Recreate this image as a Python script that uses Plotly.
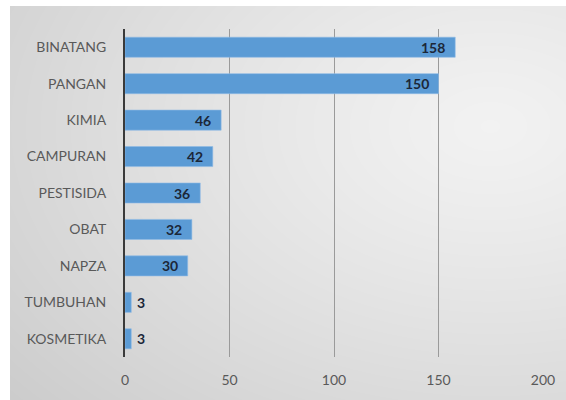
import base64
import struct
import zlib

import numpy as np
import plotly.graph_objects as go

# Jumlah kasus per kategori
categories = ["BINATANG", "PANGAN", "KIMIA", "CAMPURAN", "PESTISIDA",
              "OBAT", "NAPZA", "TUMBUHAN", "KOSMETIKA"]
values = [158, 150, 46, 42, 36, 32, 30, 3, 3]
x_ticks = [0, 50, 100, 150, 200]

W, H = 566, 400
BAR_COLOR = "#5b9bd5"
LABEL_COLOR = "#595959"
VALUE_COLOR = "#1b2738"
FONT = "Lato, Liberation Sans, Arial, sans-serif"


def gradient_png(w, h):
    """Soft grey radial fill for the chart panel, encoded as a PNG data URI."""
    yy, xx = np.mgrid[0:h, 0:w].astype(float)
    d = np.hypot(xx - 480.0, (yy - 120.0) * 1.5)
    v = 0.95 - 0.14 * (d / 600.0) ** 1.2
    img = np.clip(v * 255, 0, 255).astype(np.uint8)
    raw = b"".join(b"\x00" + img[r].tobytes() for r in range(h))

    def chunk(tag, data):
        c = struct.pack(">I", len(data)) + tag + data
        return c + struct.pack(">I", zlib.crc32(tag + data) & 0xFFFFFFFF)

    png = b"\x89PNG\r\n\x1a\n"
    png += chunk(b"IHDR", struct.pack(">IIBBBBB", w, h, 8, 0, 0, 0, 0))
    png += chunk(b"IDAT", zlib.compress(raw, 9))
    png += chunk(b"IEND", b"")
    return "data:image/png;base64," + base64.b64encode(png).decode()


x0_px, x1_px = 125, 543
y_top_px, y_bot_px = 29, 357

fig = go.Figure(
    go.Bar(
        x=values,
        y=categories,
        orientation="h",
        marker=dict(color=BAR_COLOR, line=dict(color="#8fbbe6", width=0.6)),
        width=0.55,
        hoverinfo="x+y",
    )
)

# Value labels: inside the bar end when it fits, just after it otherwise
for cat, val in zip(categories, values):
    inside = val >= 20
    fig.add_annotation(
        x=val, y=cat, xref="x", yref="y",
        text=f"<b>{val}</b>", showarrow=False,
        xanchor="right" if inside else "left",
        xshift=-8 if inside else 4,
        font=dict(family=FONT, size=14, color=VALUE_COLOR),
    )

fig.update_layout(
    width=W, height=H,
    autosize=False,
    margin=dict(l=0, r=0, t=0, b=0, autoexpand=False),
    paper_bgcolor="white",
    plot_bgcolor="rgba(0,0,0,0)",
    showlegend=False,
    font=dict(family=FONT, size=14, color=LABEL_COLOR),
    images=[dict(
        source=gradient_png(W - 10, H - 6),
        xref="paper", yref="paper",
        x=10 / W, y=1 - 6 / H, sizex=(W - 10) / W, sizey=(H - 6) / H,
        xanchor="left", yanchor="top", sizing="stretch", layer="below",
    )],
    xaxis=dict(
        domain=[x0_px / W, x1_px / W],
        range=[0, 200],
        tickvals=x_ticks,
        showgrid=True, gridcolor="#9a9a9a", gridwidth=1,
        zeroline=False, showline=False,
        ticks="", ticklabelstandoff=13,
        tickfont=dict(size=14, color=LABEL_COLOR),
        automargin=False,
        fixedrange=True,
    ),
    yaxis=dict(
        domain=[(H - y_bot_px) / H, (H - y_top_px) / H],
        categoryorder="array",
        categoryarray=categories[::-1],
        showline=True, linecolor="#3a3a3a", linewidth=2,
        showgrid=False, ticks="", ticklabelstandoff=14,
        tickfont=dict(size=14, color=LABEL_COLOR),
        automargin=False,
        fixedrange=True,
    ),
)

fig.write_html("out.html", config={"responsive": False, "displayModeBar": False})
